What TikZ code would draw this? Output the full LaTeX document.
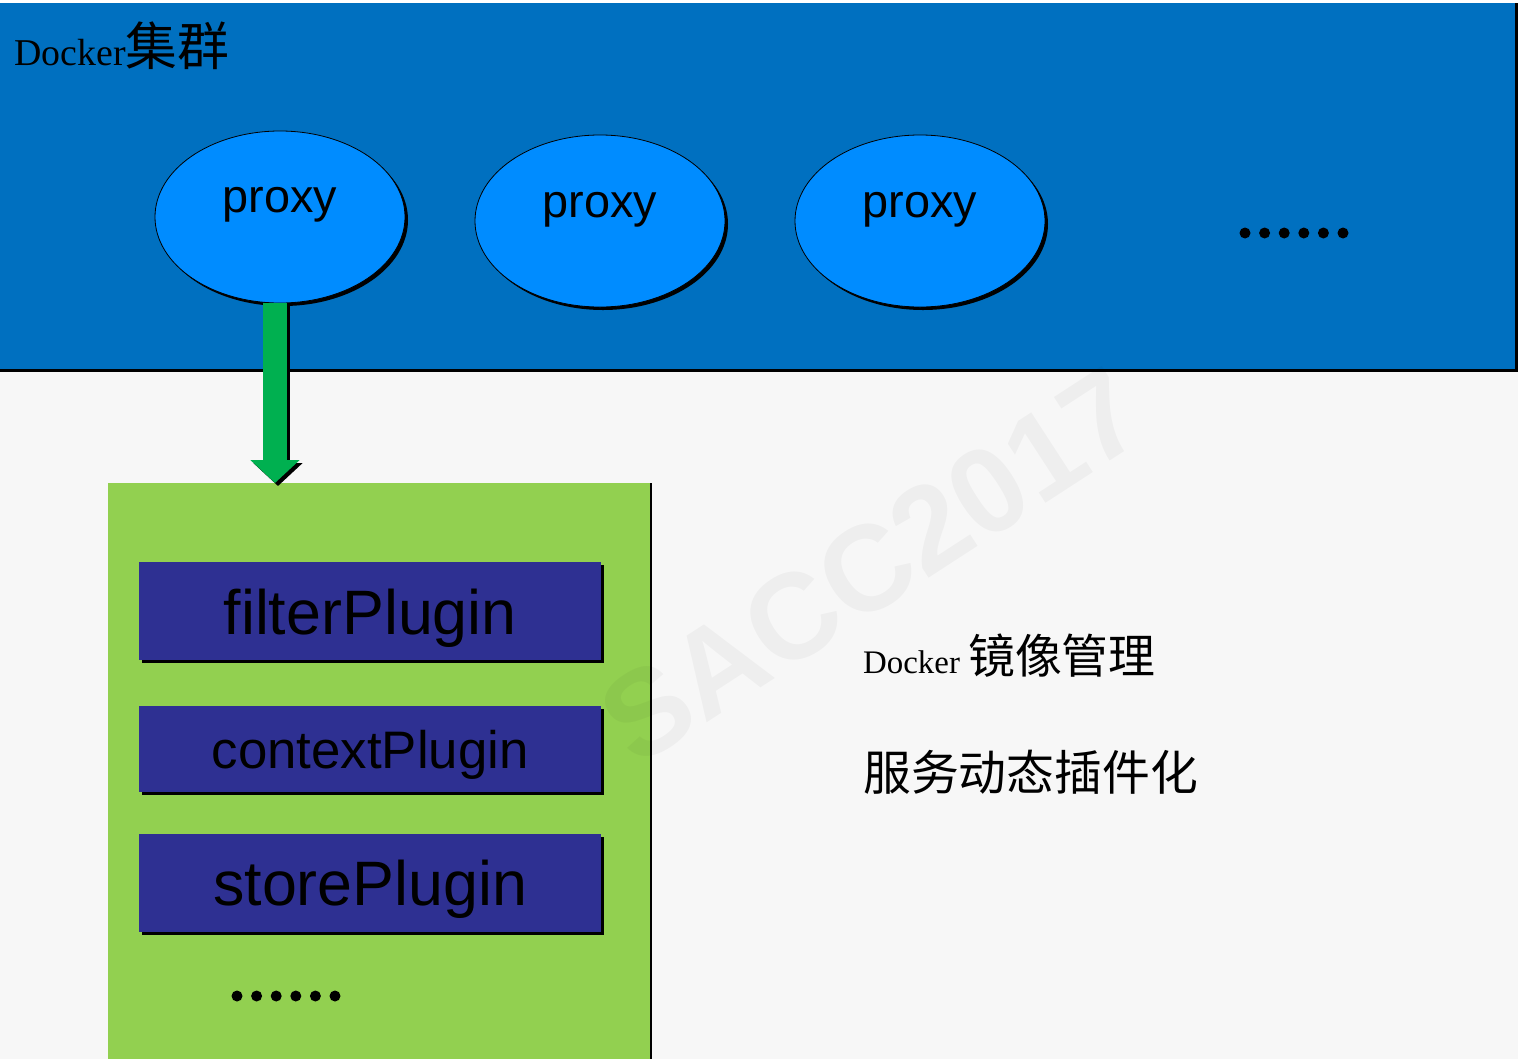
\documentclass[tikz,border=0pt]{standalone}
\usepackage{fontspec}
\setmainfont{Liberation Serif}
\newfontfamily\arialf{Liberation Sans}
\newfontfamily\cjk{Noto Sans CJK SC}
\usetikzlibrary{shapes.geometric,arrows.meta,shadows}
\definecolor{bgray}{HTML}{F7F7F7}
\definecolor{bandblue}{HTML}{0070C0}
\definecolor{proxyblue}{HTML}{008CFF}
\definecolor{arrowgreen}{HTML}{00B050}
\definecolor{grpgreen}{HTML}{92D050}
\definecolor{plugblue}{HTML}{2E3092}
\newcommand{\liftby}[2]{\smash{\raisebox{#1}{#2}}}
\tikzset{
  shad/.style={drop shadow={shadow xshift=3bp,shadow yshift=-3bp,opacity=1,fill=black}},
  proxynode/.style={ellipse,shad,draw=black,line width=0.8bp,fill=proxyblue,
    minimum width=250bp,minimum height=172bp,inner sep=0pt,
    font=\arialf\fontsize{47}{50}\selectfont},
  plugnode/.style={rectangle,shad,fill=plugblue,minimum width=462bp,inner sep=0pt,
    anchor=north west,text=black},
  bandbox/.style={rectangle,fill=bandblue,minimum width=1515bp,minimum height=366bp,
    anchor=north west,inner sep=0pt},
  grpbox/.style={rectangle,drop shadow={shadow xshift=2bp,shadow yshift=0bp,opacity=1,fill=black},
    fill=grpgreen,minimum width=542bp,minimum height=576bp,anchor=north west,inner sep=0pt},
  bigarrow/.style={line width=24bp,-{Triangle[width=48bp,length=23bp]}},
  dotfill/.style={fill=black}
}
\begin{document}
\begin{tikzpicture}[x=1bp,y=-1bp]
\useasboundingbox (0,0) rectangle (1518,1059);
\fill[white] (0,0) rectangle (1518,4);
\fill[bgray] (0,4) rectangle (1518,1059);
% band
\fill[black] (0,3) rectangle (1518,372);
\node[bandbox] (band) at (0,3) {};
\node[anchor=base west,inner sep=0pt] (title) at (14,65)
  {\fontsize{38}{40}\selectfont Docker{\cjk\fontsize{52}{54}\selectfont 集群}};
% proxies
\node[proxynode] (p1) at (280,217) {\liftby{5bp}{proxy}};
\node[proxynode] (p2) at (600,221) {\liftby{4bp}{proxy}};
\node[proxynode] (p3) at (920,221) {\liftby{4bp}{proxy}};
\foreach \i in {0,...,5} \fill[dotfill] (1245+\i*19.6,233) circle (5.5);
% group
\node[grpbox] (grp) at (108,483) {};
\coordinate (ax) at (275,0);
\draw[bigarrow,black] ([xshift=3bp,yshift=-3bp]p1.south -| ax) -- ([xshift=3bp,yshift=-3bp]grp.north -| ax);
\draw[bigarrow,arrowgreen] (p1.south -| ax) -- (grp.north -| ax);
% plugins
\node[plugnode,minimum height=98bp,font=\arialf\fontsize{63}{66}\selectfont] (fp) at (139,562) {\liftby{-23bp}{filterPlugin}};
\node[plugnode,minimum height=86bp,font=\arialf\fontsize{53}{56}\selectfont] (cp) at (139,706) {\liftby{-19bp}{contextPlugin}};
\node[plugnode,minimum height=98bp,font=\arialf\fontsize{63}{66}\selectfont] (sp) at (139,834) {\liftby{-22bp}{storePlugin}};
\foreach \i in {0,...,5} \fill[dotfill] (237+\i*19.6,996) circle (5.5);
% right text
\node[anchor=base west,inner sep=0pt] (t1) at (863,673)
  {\fontsize{33}{36}\selectfont Docker {\cjk\fontsize{47}{50}\selectfont 镜像管理}};
\node[anchor=base west,inner sep=0pt] (t2) at (863,790)
  {\cjk\fontsize{48}{50}\selectfont 服务动态插件化};
% watermark
\node[rotate=33,text=black,text opacity=0.035,font=\arialf\bfseries\fontsize{122}{126}\selectfont] (wm) at (872,566) {SACC2017};
\end{tikzpicture}
\end{document}
